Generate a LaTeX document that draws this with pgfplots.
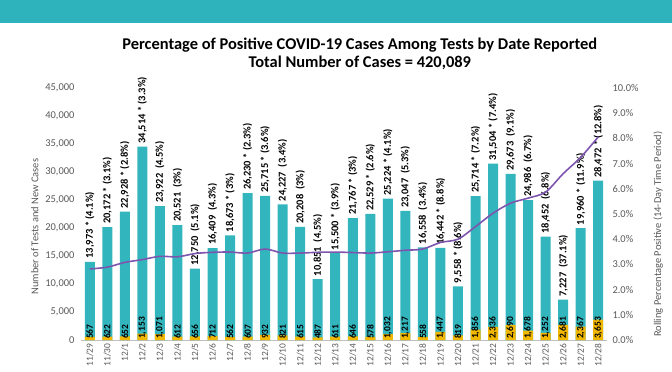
\documentclass[border=0pt]{standalone}
\usepackage{pgfplots}
\pgfplotsset{compat=1.18}
\usepackage{fontspec}
\setmainfont{Carlito}
\definecolor{band}{HTML}{2EB2BB}
\definecolor{barc}{HTML}{33B5BE}
\definecolor{gold}{HTML}{F2B800}
\definecolor{purp}{HTML}{7D55AE}
\definecolor{tickc}{HTML}{595959}
\begin{document}
\begin{tikzpicture}
\useasboundingbox (-81bp,-32bp) rectangle (591bp,340bp);
\fill[band] (-81bp,317bp) rectangle (591bp,340bp);
\begin{axis}[
  scale only axis, width=526bp, height=252bp,
  xmin=-0.5, xmax=29.5, ymin=0, ymax=45000,
  axis x line*=bottom, axis y line*=left,
  y axis line style={draw=none},
  x axis line style={draw=gray!50, line width=0.8pt, -},
  major tick length=0pt,
  xtick={0,...,29},
  xticklabels={11/29,11/30,12/1,12/2,12/3,12/4,12/5,12/6,12/7,12/8,12/9,12/10,12/11,12/12,12/13,12/14,12/15,12/16,12/17,12/18,12/19,12/20,12/21,12/22,12/23,12/24,12/25,12/26,12/27,12/28},
  x tick label style={rotate=90, anchor=east, font=\fontsize{9.5}{9.5}\selectfont, color=tickc},
  ytick={0,5000,...,45000},
  y tick label style={font=\fontsize{10.5}{10.5}\selectfont, color=tickc, xshift=-3bp},
  scaled y ticks=false,
  yticklabel style={/pgf/number format/1000 sep={,}},
  /pgf/number format/assume math mode=true,
  ylabel={Number of Tests and New Cases},
  every axis y label/.append style={at={(ticklabel cs:0.45)}},
  ylabel style={font=\fontsize{10.5}{10.5}\selectfont, color=tickc},
  clip=false,
]
\node[font=\bfseries\fontsize{16.5}{18}\selectfont, align=center] at (rel axis cs:0.53,1.137) {Percentage of Positive COVID-19 Cases Among Tests by Date Reported\\Total Number of Cases = 420,089};
\addplot[ybar, bar width=10bp, bar shift=0pt, fill=barc, draw=none,
  nodes near coords, point meta=explicit symbolic,
  every node near coord/.append style={rotate=90, anchor=west, font=\bfseries\fontsize{10.5}{10.5}\selectfont, black, inner sep=3bp}]
coordinates {
(0,13973)[13,973 * (4.1\%)]
(1,20172)[20,172 * (3.1\%)]
(2,22928)[22,928 * (2.8\%)]
(3,34514)[34,514 * (3.3\%)]
(4,23922)[23,922\ \ (4.5\%)]
(5,20521)[20,521\ \ (3\%)]
(6,12750)[12,750\ \ (5.1\%)]
(7,16409)[16,409\ \ (4.3\%)]
(8,18673)[18,673 * (3\%)]
(9,26230)[26,230 * (2.3\%)]
(10,25715)[25,715 * (3.6\%)]
(11,24227)[24,227\ \ (3.4\%)]
(12,20208)[20,208\ \ (3\%)]
(13,10851)[10,851\ \ (4.5\%)]
(14,15500)[15,500 * (3.9\%)]
(15,21767)[21,767 * (3\%)]
(16,22529)[22,529 * (2.6\%)]
(17,25224)[25,224 * (4.1\%)]
(18,23047)[23,047\ \ (5.3\%)]
(19,16558)[16,558\ \ (3.4\%)]
(20,16442)[16,442 * (8.8\%)]
(21,9558)[9,558 * (8.6\%)]
(22,25714)[25,714 * (7.2\%)]
(23,31504)[31,504 * (7.4\%)]
(24,29673)[29,673\ \ (9.1\%)]
(25,24986)[24,986\ \ (6.7\%)]
(26,18452)[18,452\ \ (6.8\%)]
(27,7227)[7,227\ \ (37.1\%)]
(28,19960)[19,960 * (11.9\%)]
(29,28472)[28,472 * (12.8\%)]
};
\addplot[ybar, bar width=10bp, bar shift=0pt, fill=gold, draw=none]
coordinates {(0,567)(1,622)(2,652)(3,1153)(4,1071)(5,612)(6,656)(7,712)(8,562)(9,607)(10,932)(11,821)(12,615)(13,487)(14,611)(15,646)(16,578)(17,1032)(18,1217)(19,558)(20,1447)(21,819)(22,1856)(23,2336)(24,2690)(25,1678)(26,1252)(27,2681)(28,2367)(29,3653)};
\addplot[draw=none, mark=none, nodes near coords, point meta=explicit symbolic,
  every node near coord/.append style={rotate=90, anchor=west, font=\bfseries\fontsize{9.5}{9.5}\selectfont, black, inner sep=1bp}]
coordinates {(0,0)[567](1,0)[622](2,0)[652](3,0)[1,153](4,0)[1,071](5,0)[612](6,0)[656](7,0)[712](8,0)[562](9,0)[607](10,0)[932](11,0)[821](12,0)[615](13,0)[487](14,0)[611](15,0)[646](16,0)[578](17,0)[1,032](18,0)[1,217](19,0)[558](20,0)[1,447](21,0)[819](22,0)[1,856](23,0)[2,336](24,0)[2,690](25,0)[1,678](26,0)[1,252](27,0)[2,681](28,0)[2,367](29,0)[3,653]};
\end{axis}
\begin{axis}[
  scale only axis, width=526bp, height=252bp,
  xmin=-0.5, xmax=29.5, ymin=0, ymax=10,
  axis y line*=right, axis x line=none,
  y axis line style={draw=none},
  major tick length=0pt,
  ytick={0,1,...,10},
  yticklabel={\pgfmathprintnumber[fixed,fixed zerofill,precision=1]{\tick}\%},
  /pgf/number format/assume math mode=true,
  y tick label style={font=\fontsize{10.5}{10.5}\selectfont, color=tickc, xshift=2bp},
  ylabel={Rolling Percentage Positive (14-Day Time Period)},
  every axis y label/.append style={at={(ticklabel cs:0.42,8bp)}},
  ylabel style={font=\fontsize{10.5}{10.5}\selectfont, color=tickc},
]
\addplot[purp, line width=1.6pt, smooth] coordinates {
(0,2.82)(1,2.89)(2,3.08)(3,3.19)(4,3.32)(5,3.30)(6,3.43)(7,3.48)(8,3.49)(9,3.45)(10,3.61)(11,3.45)(12,3.45)(13,3.48)(14,3.49)(15,3.47)(16,3.45)(17,3.50)(18,3.56)(19,3.61)(20,3.87)(21,4.0)(22,4.5)(23,5.03)(24,5.43)(25,5.63)(26,5.87)(27,6.6)(28,7.25)(29,8.06)};
\end{axis}
\end{tikzpicture}
\end{document}
